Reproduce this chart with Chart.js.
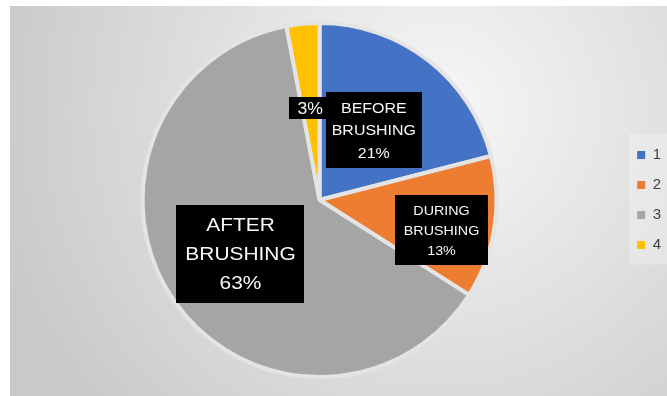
<!DOCTYPE html>
<html>
<head>
<meta charset="utf-8">
<script src="https://cdn.jsdelivr.net/npm/chart.js@4"></script>
<style>
  html, body { margin: 0; padding: 0; background: #fff; }
</style>
</head>
<body>
<canvas id="myChart" width="667" height="396"></canvas>
<script>
const legendLabels = ['1', '2', '3', '4']
const sliceNames = [['BEFORE', 'BRUSHING'], ['DURING', 'BRUSHING'], ['AFTER', 'BRUSHING'], []]
const values = [21, 13, 63, 3]
const sliceColors = ['#4472C4', '#ED7D31', '#A5A5A5', '#FFC000']

// grey radial backdrop + lighter panel behind the legend
const backdrop = {
  id: 'backdrop',
  beforeDraw(chart) {
    const { ctx, width, height } = chart
    ctx.save()
    ctx.fillStyle = '#fff'
    ctx.fillRect(0, 0, width, height)
    const g = ctx.createRadialGradient(440, 110, 0, 440, 110, 460)
    g.addColorStop(0, '#f7f7f7')
    g.addColorStop(1, '#c9c9c9')
    ctx.fillStyle = g
    ctx.fillRect(10, 6, width - 10, height - 6)

    const boxes = chart.legend.legendHitBoxes
    if (boxes && boxes.length) {
      const first = boxes[0]
      const last = boxes[boxes.length - 1]
      ctx.fillStyle = 'rgba(255,255,255,0.25)'
      ctx.fillRect(first.left - 8, first.top - 14, width - first.left + 8, last.top + last.height - first.top + 26)
    }
    ctx.restore()
  }
}

// black call-out boxes with white text on each slice
const boxLabels = {
  id: 'boxLabels',
  afterDatasetsDraw(chart, args, opts) {
    const ctx = chart.ctx
    const total = values.reduce((a, b) => a + b, 0)
    chart.getDatasetMeta(0).data.forEach((arc, i) => {
      const { x, y, startAngle, endAngle, outerRadius } =
        arc.getProps(['x', 'y', 'startAngle', 'endAngle', 'outerRadius'], true)
      const mid = (startAngle + endAngle) / 2 + opts.nudge[i] * Math.PI / 180
      const cx = x + Math.cos(mid) * outerRadius * opts.dist[i]
      const cy = y + Math.sin(mid) * outerRadius * opts.dist[i]
      const lines = sliceNames[i].concat([Math.round(values[i] / total * 100) + '%'])
      const size = opts.size[i]
      const lh = size * opts.lineHeight[i]
      ctx.save()
      ctx.font = size + 'px "Liberation Sans", Arial, sans-serif'
      const tw = Math.max(...lines.map(t => ctx.measureText(t).width)) * opts.stretch
      const w = tw + 2 * opts.padX[i]
      const h = lines.length * lh + 2 * opts.padY[i]
      const top = cy - h / 2
      ctx.fillStyle = '#000'
      ctx.fillRect(Math.round(cx - w / 2), Math.round(top), Math.round(w), Math.round(h))
      ctx.fillStyle = '#f8f8f8'
      ctx.textAlign = 'center'
      ctx.textBaseline = 'middle'
      lines.forEach((t, k) => {
        ctx.save()
        ctx.translate(cx, top + opts.padY[i] + lh * (k + 0.5))
        ctx.scale(opts.stretch, 1)
        ctx.fillText(t, 0, 1)
        ctx.restore()
      })
      ctx.restore()
    })
  }
}

const ctx = document.getElementById('myChart')
// eslint-disable-next-line no-unused-vars
const myChart = new Chart(ctx, {
  type: 'pie',
  data: {
    labels: legendLabels,
    datasets: [{
      data: values,
      backgroundColor: sliceColors,
      borderColor: '#e4e4e4',
      borderWidth: 4
    }]
  },
  options: {
    responsive: false,
    animation: false,
    events: [],
    layout: {
      padding: { left: 17, right: -4, top: 21, bottom: 17 }
    },
    plugins: {
      legend: {
        position: 'right',
        labels: {
          boxWidth: 8,
          boxHeight: 8,
          padding: 15,
          color: '#404040',
          font: { family: '"Liberation Sans", Arial, sans-serif', size: 15 },
          // plain filled squares, no slice border around them
          generateLabels: (chart) =>
            Chart.overrides.doughnut.plugins.legend.labels.generateLabels(chart)
              .map(item => ({ ...item, lineWidth: 0 }))
        }
      },
      tooltip: { enabled: false },
      boxLabels: {
        dist: [0.5, 0.71, 0.54, 0.52],
        nudge: [0, 5, 0, -0.5],
        size: [14.5, 13, 19, 16],
        lineHeight: [1.55, 1.55, 1.55, 1.25],
        padX: [6, 9, 9, 8],
        padY: [4.5, 5, 5, 1],
        stretch: 1.1
      }
    }
  },
  plugins: [backdrop, boxLabels]
})
</script>
</body>
</html>
